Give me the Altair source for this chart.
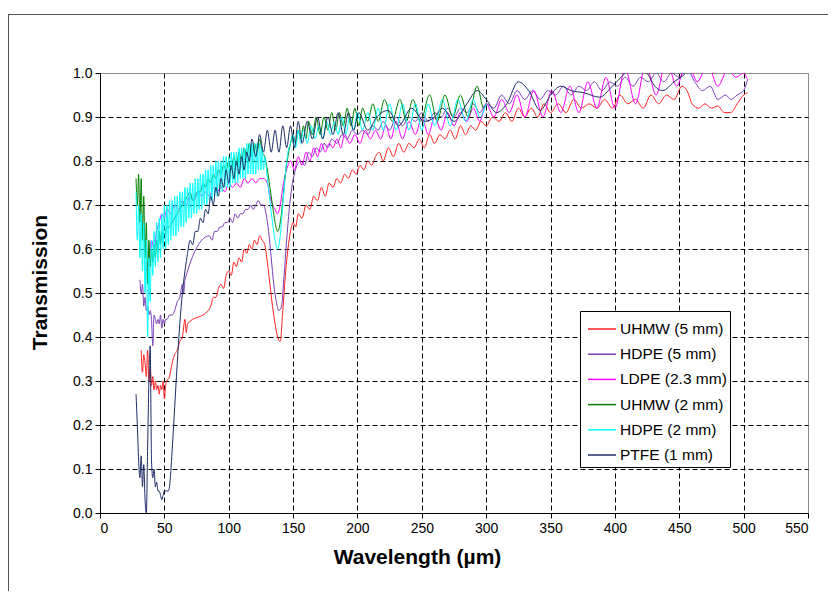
import altair as alt
import pandas as pd

SERIES = ["UHMW (5 mm)", "HDPE (5 mm)", "LDPE (2.3 mm)", "UHMW (2 mm)", "HDPE (2 mm)", "PTFE (1 mm)"]
COLORS = ["#FF2020", "#7B3FB8", "#FF00FF", "#008000", "#00FFFF", "#1F2D66"]
X_TICKS = [0, 50, 100, 150, 200, 250, 300, 350, 400, 450, 500, 550]
Y_TICKS = [0.0, 0.1, 0.2, 0.3, 0.4, 0.5, 0.6, 0.7, 0.8, 0.9, 1.0]

UHMW_5 = [(32,.37),(33,.32),(34,.36),(35,.34),(36,.31),(37,.37),(38,.30),(39,.33),(40,.29),(41,.31),(42,.28),(43,.30),(44,.28),(45,.29),(46,.27),(47,.29),(48,.28),(49,.30),(50,.26),(51,.29),(52,.30),
          (54,.31),(56,.34),(58,.36),(60,.37),(62,.39),(64,.40),(66,.44),(67,.41),(68,.43),
          (84,.46),(86,.47),(88,.49),(90,.49),(92,.51),(94,.52),(96,.51),(98,.54),(100,.55),(102,.54),(104,.57),(106,.56),(108,.58),(110,.57),(112,.60),(114,.59),(116,.61),(118,.60),(120,.62),(122,.61),(124,.63),(126,.62),(128,.61),
          (130,.57),(132,.52),(134,.47),(136,.43),(138,.40),(140,.39),(142,.46),(144,.54),(146,.60),(148,.64),(150,.66),(152,.65),(154,.68),
          (157,.67),(160,.70),(163,.69),(166,.72),(169,.71),(172,.74),(175,.72),(178,.75),(181,.74),(184,.76),(187,.75),(190,.77),(193,.76),(196,.78),(199,.77),(202,.79),(205,.78),(208,.80),(211,.79),(214,.81),(217,.82),(220,.80),
          (224,.83),(228,.81),(232,.84),(236,.82),(240,.84),(244,.83),(248,.85),(252,.83),(256,.86),(260,.84),(264,.86),(268,.85),(272,.87),(276,.85),(280,.88),(284,.86),(288,.88),(292,.87),(296,.89),(300,.88),
          (305,.90),(310,.89),(315,.91),(320,.89),(325,.92),(330,.90),(335,.92),(340,.90),(345,.93),(350,.91),
          (356,.93),(362,.91),(368,.94),(374,.92),(380,.93),(386,.92),(392,.94),(398,.92),(404,.95),(410,.93),(416,.94),(422,.92),(428,.95),(434,.93),(440,.95),(446,.94),(452,.97),
          (456,.96),(460,.93),(465,.92),(470,.93),(475,.92),(480,.925),(485,.91),(490,.91),(495,.93),(500,.95),(503,.955)]

HDPE_5 = [(31,.53),(32,.50),(33,.52),(34,.47),(35,.49),(36,.46),(37,.47),(38,.45),(39,.46),(40,.44),(41,.38),(42,.45),(43,.44),(44,.43),(45,.44),(46,.43),(47,.45),(48,.42),(49,.44),(50,.43),(51,.44),(52,.44),
          (54,.45),(56,.45),(58,.46),(60,.48),(62,.49),(64,.52),(65,.50),(66,.53),
          (85,.63),(87,.62),(89,.64),(91,.64),(93,.65),(95,.65),(97,.66),(99,.66),(101,.67),(103,.66),(105,.68),(107,.67),(109,.68),(111,.68),(113,.69),(115,.69),(117,.70),(119,.69),(121,.70),(123,.71),(125,.70),(127,.70),
          (129,.68),(131,.64),(133,.58),(135,.52),(137,.48),(139,.46),(141,.47),(143,.54),(145,.62),(147,.69),(149,.74),(151,.77),(153,.79),
          (156,.80),(159,.79),(162,.82),(165,.81),(168,.83),(171,.82),(174,.84),(177,.83),(180,.85),(184,.84),(188,.86),(192,.85),(196,.87),(200,.86),(204,.87),(208,.86),(212,.88),(216,.87),(220,.89),
          (225,.87),(230,.90),(235,.88),(240,.90),(245,.89),(250,.91),(255,.89),(260,.91),(265,.90),(270,.92),(275,.90),(280,.92),(285,.91),(290,.93),(295,.91),(300,.93),
          (306,.92),(312,.95),(318,.93),(324,.96),(330,.94),(336,.96),(342,.94),(348,.96),(354,.95),(360,.97),(366,.95),(372,.97),(378,.96),(384,.98),(390,.96),(396,.98),(402,.97),(408,.99),(414,.97),(420,.99),(426,.98),(432,1.0),(438,.98),(444,1.0),(450,.99),(456,1.01),
          (462,.98),(468,.96),(474,.97),(480,.94),(486,.95),(490,.94),(495,.95),(500,.96),(503,.985)]

LDPE_23 = [(36,.55),(38,.58),(40,.62),(42,.60),(44,.64),(46,.66),(48,.68),(50,.67),(52,.69),(55,.68),(58,.70),(61,.69),(64,.71),(67,.70),(70,.72),(73,.71),(76,.73),(79,.72),(82,.73),(85,.72),(88,.74),(91,.73),(94,.74),(97,.73),
           (100,.75),(103,.74),(106,.75),(109,.74),(112,.76),(115,.75),(118,.76),(121,.75),(124,.76),(127,.76),(130,.75),(132,.72),(134,.70),(136,.69),(138,.68),(140,.70),(142,.74),(144,.77),(146,.79),(148,.80),
           (151,.78),(154,.81),(157,.79),(160,.82),(163,.80),(166,.83),(169,.81),(172,.84),(175,.82),(178,.84),(181,.83),(184,.85),(187,.83),(190,.86),(194,.84),(198,.86),(202,.84),(206,.87),(210,.85),(214,.87),(218,.85),
           (222,.88),(226,.85),(230,.89),(235,.85),(240,.89),(245,.86),(250,.90),(255,.86),(260,.90),(265,.87),(270,.91),(275,.88),(280,.91),(285,.89),(290,.92),(295,.89),(300,.93),
           (306,.90),(312,.94),(318,.91),(324,.95),(330,.90),(337,.96),(344,.90),(351,.96),(358,.91),(365,.97),(372,.91),(379,.98),(386,.92),(393,.99),(400,.92),(408,1.01),(416,.93),(424,1.02),(432,.95),(440,1.03),
           (448,.97),(456,1.03),(464,.98),(472,1.02),(480,.97),(488,1.01),(494,.99),(500,1.00),(503,.985)]

UHMW_2 = [(28,.76),(29,.70),(30,.77),(31,.66),(32,.76),(33,.62),(34,.72),(35,.58),(36,.66),(37,.52),(38,.62),(39,.56),(40,.60),(41,.57),(42,.61),(43,.58),(44,.62),(45,.60),(46,.64),(47,.61),(48,.64),(50,.63),(52,.65),(54,.65),
          (56,.66),(58,.67),(60,.68),(62,.69),(64,.70),(66,.71),(68,.72),(70,.73),(72,.71),(74,.72),(76,.73),(78,.73),(80,.75),(82,.74),(84,.76),(86,.75),(88,.77),(90,.76),(92,.78),(94,.77),(96,.79),(98,.78),
          (100,.80),(102,.78),(104,.81),(106,.79),(108,.82),(110,.80),(112,.83),(114,.81),(116,.84),(118,.81),(120,.84),(122,.82),(124,.85),(126,.82),(128,.81),(130,.78),(132,.74),(134,.70),(136,.66),(138,.64),(140,.66),
          (142,.71),(144,.77),(146,.81),(148,.84),(150,.86),(152,.84),(154,.87),(156,.85),(158,.88),(160,.85),(162,.89),(165,.86),(168,.90),(171,.86),(174,.90),(177,.87),(180,.91),(183,.87),(186,.91),(189,.88),(192,.92),
          (195,.88),(198,.92),(201,.88),(204,.92),(208,.89),(212,.93),(216,.89),(221,.94),(227,.89),(233,.94),(238,.89),(243,.94),(249,.89),(256,.95),(262,.89),(268,.95),(274,.90),(280,.95),(286,.90),(293,.97),(298,.92),(300,.93)]

HDPE_2 = [(28,.73),(29,.62),(30,.70),(31,.58),(32,.68),(33,.55),(34,.66),(35,.50),(36,.62),(37,.40),(38,.58),(39,.48),
          (40,.62),(41,.54),(42,.64),(43,.56),(44,.66),(45,.57),(46,.67),(47,.58),(48,.68),(49,.60),(50,.70),(51,.60),(52,.70),(53,.61),(54,.71),(55,.62),(56,.71),(57,.63),(58,.72),(59,.63),
          (60,.72),(61,.64),(62,.73),(63,.65),(64,.73),(65,.65),(66,.74),(67,.66),(68,.74),(69,.67),(70,.75),(71,.67),(72,.75),(73,.68),(74,.76),(75,.68),(76,.76),(77,.69),(78,.77),(79,.69),
          (80,.77),(81,.70),(82,.78),(83,.70),(84,.78),(85,.71),(86,.79),(87,.71),(88,.79),(89,.72),(90,.80),(91,.72),(92,.80),(93,.73),(94,.80),(95,.73),(96,.81),(97,.74),(98,.81),(99,.74),
          (100,.81),(101,.74),(102,.82),(103,.75),(104,.82),(105,.75),(106,.82),(107,.75),(108,.83),(109,.76),(110,.83),(111,.76),(112,.83),(113,.76),(114,.84),(115,.77),(116,.84),(117,.77),(118,.84),(119,.77),
          (120,.84),(121,.77),(122,.84),(123,.78),(124,.84),(125,.78),(126,.83),(127,.78),(128,.81),(129,.79),(130,.76),(132,.71),(134,.66),(136,.62),(138,.60),(140,.63),
          (142,.70),(144,.77),(146,.82),(148,.84),(150,.86),(152,.83),(154,.87),(156,.84),(158,.87),(161,.84),(164,.88),(167,.85),(170,.88),(173,.85),(176,.89),(179,.86),(182,.89),(185,.86),(188,.90),(191,.86),(194,.90),
          (197,.87),(200,.91),(204,.87),(208,.91),(212,.87),(216,.92),(220,.87),(225,.93),(230,.87),(235,.93),(240,.87),(245,.93),(250,.87),(255,.93),(260,.88),(266,.94),(272,.88),(278,.94),(284,.89),(290,.94),(295,.90),(300,.93)]

PTFE_1 = [(28,.27),(29,.20),(30,.12),(31,.08),(32,.13),(33,.06),(34,.11),(35,.03),(36,.00),(37,.15),(38,.30),(39,.38),(40,.12),(41,.08),(42,.10),(43,.06),(44,.07),(45,.05),(46,.05),(47,.04),(48,.03),(49,.04),(50,.05),(51,.05),(52,.05),(53,.05),
          (54,.06),(56,.14),(58,.24),(60,.34),(62,.43),(64,.50),(66,.55),(68,.59),(70,.62),(72,.61),(74,.64),(76,.64),(78,.67),(80,.66),(82,.69),(84,.68),(86,.72),(88,.70),(90,.74),(92,.72),(94,.76),(96,.74),(98,.78),
          (100,.75),(102,.79),(104,.76),(106,.80),(108,.77),(110,.81),(112,.78),(114,.82),(116,.80),(118,.85),(121,.81),(124,.86),(127,.82),(130,.87),(133,.82),(136,.87),(139,.82),(142,.88),(145,.83),(148,.88),(151,.83),
          (154,.89),(157,.84),(161,.89),(165,.85),(169,.90),(173,.85),(177,.90),(181,.86),(185,.91),(189,.86),(193,.91),(197,.87),(201,.91),(208,.87),(215,.90),(224,.915),(232,.88),(242,.92),(252,.89),(260,.90),(266,.92),
          (275,.89),(285,.93),(293,.96),(300,.94),(308,.91),(316,.93),(325,.98),(333,.96),(342,.915),(350,.95),(358,.97),(366,.96),(376,.955),(388,.945),(398,.97),(408,1.0),(416,1.02),(425,1.0),(431,.97),(437,.96),
          (446,.98),(455,1.0),(460,1.02)]

POINTS = [UHMW_5, HDPE_5, LDPE_23, UHMW_2, HDPE_2, PTFE_1]

rows = []
for name, pts in zip(SERIES, POINTS):
    for i, (xv, yv) in enumerate(pts):
        rows.append({"series": name, "wl": xv, "tr": yv, "i": i})
df = pd.DataFrame(rows)

FONT = "Liberation Sans"

x_enc = alt.X(
    "wl:Q",
    scale=alt.Scale(domain=[0, 550], nice=False, zero=False),
    axis=alt.Axis(
        values=X_TICKS, format="d", title="Wavelength (µm)",
        grid=True,
        gridColor={"condition": {"test": "datum.value >= 550", "value": "#8c8c8c"}, "value": "black"},
        gridDash={"condition": {"test": "datum.value >= 550", "value": [1, 0]}, "value": [5, 3]},
        titleX=317, titleY=44, titleBaseline="middle", titleAlign="center",
    ),
)
y_enc = alt.Y(
    "tr:Q",
    scale=alt.Scale(domain=[0, 1], nice=False, zero=False),
    axis=alt.Axis(
        values=Y_TICKS, format=".1f", title="Transmission",
        grid=True,
        gridColor={"condition": {"test": "datum.value >= 1", "value": "#8c8c8c"}, "value": "black"},
        gridDash={"condition": {"test": "datum.value >= 1", "value": [1, 0]}, "value": [5, 3]},
        titleX=-60, titleY=209, titleBaseline="middle", titleAlign="center", titleAngle=270,
    ),
)
color_enc = alt.Color(
    "series:N",
    scale=alt.Scale(domain=SERIES, range=COLORS),
    legend=alt.Legend(
        title=None, orient="none", legendX=480, legendY=238,
        padding=3, symbolOffset=4, labelOffset=3,
        symbolType="stroke", symbolSize=784, symbolStrokeWidth=1.5,
        strokeColor="black", fillColor="white", cornerRadius=0,
        labelFont=FONT, labelFontSize=15.5, labelColor="black", rowPadding=1.2,
    ),
)

layers = []
for name in SERIES:
    layers.append(
        alt.Chart(df)
        .transform_filter(alt.datum.series == name)
        .mark_line(strokeWidth=1, clip=True, interpolate="monotone")
        .encode(x=x_enc, y=y_enc, color=color_enc, order="i:Q")
    )

frame_df = pd.DataFrame({"k": [0]})
frame_top = alt.Chart(frame_df).mark_rule(color="#555555", strokeWidth=1).encode(
    x=alt.value(-92), x2=alt.value(728), y=alt.value(-58.5)
)
frame_left = alt.Chart(frame_df).mark_rule(color="#555555", strokeWidth=1).encode(
    x=alt.value(-91.5), y=alt.value(-59), y2=alt.value(518)
)

chart = (
    alt.layer(*layers, frame_top, frame_left)
    .properties(
        width=708, height=440,
        padding={"left": 92, "top": 65, "right": 20, "bottom": 78},
        autosize=alt.AutoSizeParams(type="none"),
    )
    .configure_view(stroke="#8c8c8c", strokeWidth=1)
    .configure_axis(
        domainColor="black", tickColor="black", tickSize=5, labelColor="black",
        labelFont=FONT, labelFontSize=14, labelPadding=3,
        titleFont=FONT, titleFontSize=21, titleFontWeight="bold", titleColor="black",
        gridOpacity=1, gridWidth=1,
    )
)

chart.save("out.html", embed_options={"renderer": "svg", "actions": False})
